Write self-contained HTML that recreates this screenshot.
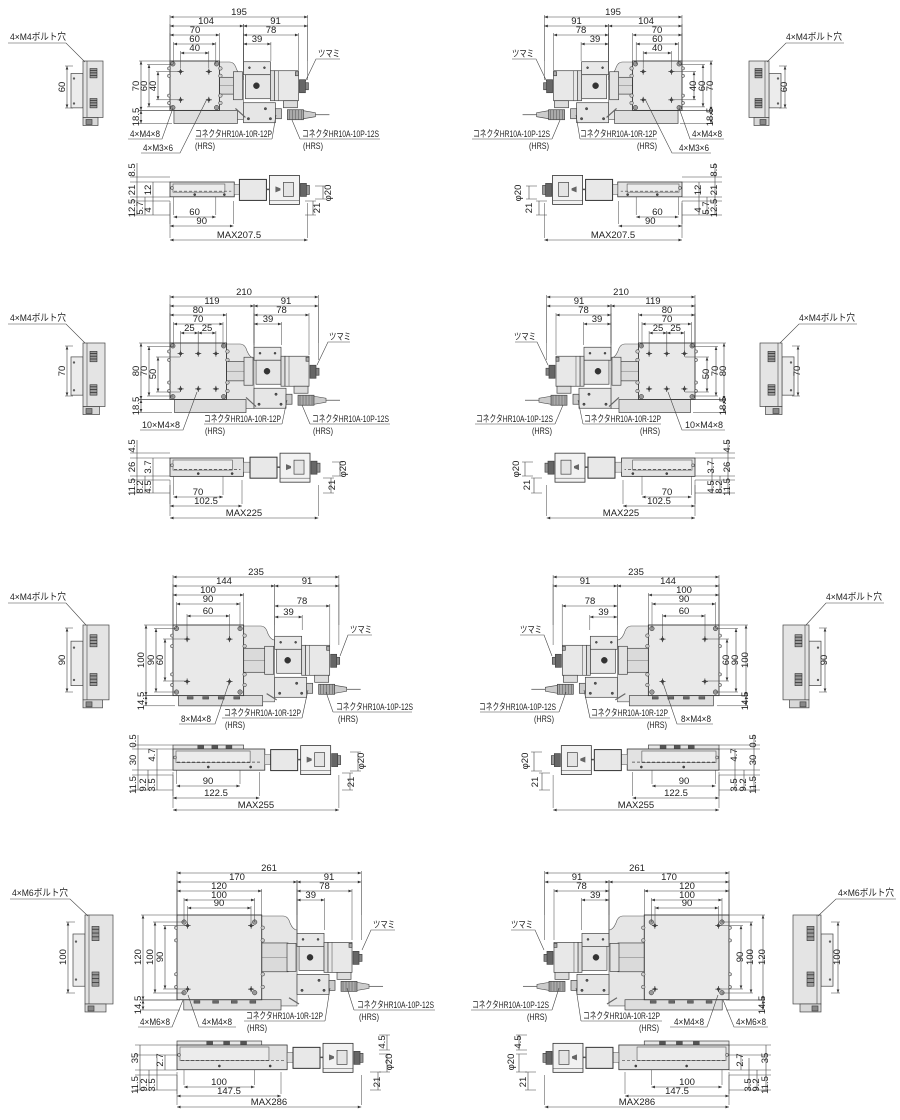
<!DOCTYPE html>
<html><head><meta charset="utf-8"><style>
html,body{margin:0;padding:0;background:#fff;}
svg{display:block;}
text{font-family:"Liberation Sans Narrow","Liberation Sans","Noto Sans CJK JP",sans-serif;font-size:9.5px;fill:#222;}
</style></head><body>
<svg id="S" width="900" height="1120" viewBox="0 0 900 1120" xmlns="http://www.w3.org/2000/svg">
<rect width="900" height="1120" fill="#fff"/>
<g id="r1">
<text x="239" y="15" text-anchor="middle">195</text>
<text x="206" y="24" text-anchor="middle">104</text>
<text x="275.5" y="24" text-anchor="middle">91</text>
<text x="195" y="33" text-anchor="middle">70</text>
<text x="271" y="33" text-anchor="middle">78</text>
<text x="194.6" y="42" text-anchor="middle">60</text>
<text x="257" y="42" text-anchor="middle">39</text>
<text x="194.7" y="51" text-anchor="middle">40</text>
<text x="139" y="86" text-anchor="middle" transform="rotate(-90 139 86)">70</text>
<text x="147" y="86" text-anchor="middle" transform="rotate(-90 147 86)">60</text>
<text x="156" y="86" text-anchor="middle" transform="rotate(-90 156 86)">40</text>
<text x="139" y="117" text-anchor="middle" transform="rotate(-90 139 117)">18.5</text>
<text x="130" y="137" text-anchor="start" textLength="30" lengthAdjust="spacingAndGlyphs">4×M4×8</text>
<text x="143" y="151" text-anchor="start" textLength="30" lengthAdjust="spacingAndGlyphs">4×M3×6</text>
<text x="195" y="137" text-anchor="start" textLength="77" lengthAdjust="spacingAndGlyphs">コネクタHR10A-10R-12P</text>
<text x="195" y="149" text-anchor="start" textLength="20" lengthAdjust="spacingAndGlyphs">(HRS)</text>
<text x="302" y="137" text-anchor="start" textLength="77" lengthAdjust="spacingAndGlyphs">コネクタHR10A-10P-12S</text>
<text x="303" y="149" text-anchor="start" textLength="20" lengthAdjust="spacingAndGlyphs">(HRS)</text>
<text x="318" y="57" text-anchor="start" textLength="22" lengthAdjust="spacingAndGlyphs">ツマミ</text>
<text x="65" y="87" text-anchor="middle" transform="rotate(-90 65 87)">60</text>
<text x="10" y="40" text-anchor="start" textLength="56" lengthAdjust="spacingAndGlyphs">4×M4ボルト穴</text>
<text x="135" y="170" text-anchor="middle" transform="rotate(-90 135 170)">8.5</text>
<text x="135" y="190" text-anchor="middle" transform="rotate(-90 135 190)">21</text>
<text x="135" y="208" text-anchor="middle" transform="rotate(-90 135 208)">12.5</text>
<text x="143" y="208" text-anchor="middle" transform="rotate(-90 143 208)">5.7</text>
<text x="151" y="210" text-anchor="middle" transform="rotate(-90 151 210)">4</text>
<text x="151" y="190" text-anchor="middle" transform="rotate(-90 151 190)">12</text>
<text x="194.6" y="215" text-anchor="middle">60</text>
<text x="201.7" y="224" text-anchor="middle">90</text>
<text x="239" y="238" text-anchor="middle">MAX207.5</text>
<text x="331" y="193" text-anchor="middle" transform="rotate(-90 331 193)">φ20</text>
<text x="320" y="208" text-anchor="middle" transform="rotate(-90 320 208)">21</text>
</g>
<g id="r2">
<text x="244" y="295" text-anchor="middle">210</text>
<text x="212" y="304" text-anchor="middle">119</text>
<text x="286" y="304" text-anchor="middle">91</text>
<text x="198" y="313" text-anchor="middle">80</text>
<text x="281.5" y="313" text-anchor="middle">78</text>
<text x="198" y="322" text-anchor="middle">70</text>
<text x="268" y="322" text-anchor="middle">39</text>
<text x="189.4" y="331" text-anchor="middle">25</text>
<text x="207" y="331" text-anchor="middle">25</text>
<text x="139" y="371" text-anchor="middle" transform="rotate(-90 139 371)">80</text>
<text x="147" y="371" text-anchor="middle" transform="rotate(-90 147 371)">70</text>
<text x="156" y="374" text-anchor="middle" transform="rotate(-90 156 374)">50</text>
<text x="139" y="406" text-anchor="middle" transform="rotate(-90 139 406)">18.5</text>
<text x="142" y="428" text-anchor="start" textLength="38" lengthAdjust="spacingAndGlyphs">10×M4×8</text>
<text x="204" y="422" text-anchor="start" textLength="77" lengthAdjust="spacingAndGlyphs">コネクタHR10A-10R-12P</text>
<text x="205" y="434" text-anchor="start" textLength="20" lengthAdjust="spacingAndGlyphs">(HRS)</text>
<text x="312" y="422" text-anchor="start" textLength="77" lengthAdjust="spacingAndGlyphs">コネクタHR10A-10P-12S</text>
<text x="313" y="434" text-anchor="start" textLength="20" lengthAdjust="spacingAndGlyphs">(HRS)</text>
<text x="329" y="340" text-anchor="start" textLength="22" lengthAdjust="spacingAndGlyphs">ツマミ</text>
<text x="65" y="371" text-anchor="middle" transform="rotate(-90 65 371)">70</text>
<text x="10" y="321" text-anchor="start" textLength="56" lengthAdjust="spacingAndGlyphs">4×M4ボルト穴</text>
<text x="135" y="446" text-anchor="middle" transform="rotate(-90 135 446)">4.5</text>
<text x="135" y="467" text-anchor="middle" transform="rotate(-90 135 467)">26</text>
<text x="135" y="487" text-anchor="middle" transform="rotate(-90 135 487)">11.5</text>
<text x="143" y="487" text-anchor="middle" transform="rotate(-90 143 487)">8.2</text>
<text x="151" y="487" text-anchor="middle" transform="rotate(-90 151 487)">4.5</text>
<text x="151" y="467" text-anchor="middle" transform="rotate(-90 151 467)">3.7</text>
<text x="198" y="495" text-anchor="middle">70</text>
<text x="206" y="504" text-anchor="middle">102.5</text>
<text x="244" y="516" text-anchor="middle">MAX225</text>
<text x="346" y="469" text-anchor="middle" transform="rotate(-90 346 469)">φ20</text>
<text x="335" y="485" text-anchor="middle" transform="rotate(-90 335 485)">21</text>
</g>
<g id="r3">
<text x="256" y="575" text-anchor="middle">235</text>
<text x="224" y="584" text-anchor="middle">144</text>
<text x="307" y="584" text-anchor="middle">91</text>
<text x="208" y="593" text-anchor="middle">100</text>
<text x="208" y="602" text-anchor="middle">90</text>
<text x="302" y="604" text-anchor="middle">78</text>
<text x="208" y="614" text-anchor="middle">60</text>
<text x="288.5" y="615" text-anchor="middle">39</text>
<text x="144" y="660" text-anchor="middle" transform="rotate(-90 144 660)">100</text>
<text x="154" y="660" text-anchor="middle" transform="rotate(-90 154 660)">90</text>
<text x="163" y="660" text-anchor="middle" transform="rotate(-90 163 660)">60</text>
<text x="144" y="701" text-anchor="middle" transform="rotate(-90 144 701)">14.5</text>
<text x="181" y="722" text-anchor="start" textLength="30" lengthAdjust="spacingAndGlyphs">8×M4×8</text>
<text x="224" y="716" text-anchor="start" textLength="77" lengthAdjust="spacingAndGlyphs">コネクタHR10A-10R-12P</text>
<text x="225" y="728" text-anchor="start" textLength="20" lengthAdjust="spacingAndGlyphs">(HRS)</text>
<text x="336" y="710" text-anchor="start" textLength="77" lengthAdjust="spacingAndGlyphs">コネクタHR10A-10P-12S</text>
<text x="338" y="722" text-anchor="start" textLength="20" lengthAdjust="spacingAndGlyphs">(HRS)</text>
<text x="350" y="633" text-anchor="start" textLength="22" lengthAdjust="spacingAndGlyphs">ツマミ</text>
<text x="65" y="660" text-anchor="middle" transform="rotate(-90 65 660)">90</text>
<text x="10" y="600" text-anchor="start" textLength="56" lengthAdjust="spacingAndGlyphs">4×M4ボルト穴</text>
<text x="136" y="741" text-anchor="middle" transform="rotate(-90 136 741)">0.5</text>
<text x="136" y="760" text-anchor="middle" transform="rotate(-90 136 760)">30</text>
<text x="136" y="785" text-anchor="middle" transform="rotate(-90 136 785)">11.5</text>
<text x="146" y="785" text-anchor="middle" transform="rotate(-90 146 785)">9.2</text>
<text x="155" y="785" text-anchor="middle" transform="rotate(-90 155 785)">3.5</text>
<text x="155" y="755" text-anchor="middle" transform="rotate(-90 155 755)">4.7</text>
<text x="208" y="784" text-anchor="middle">90</text>
<text x="216" y="796" text-anchor="middle">122.5</text>
<text x="256" y="808" text-anchor="middle">MAX255</text>
<text x="364" y="761" text-anchor="middle" transform="rotate(-90 364 761)">φ20</text>
<text x="354" y="782" text-anchor="middle" transform="rotate(-90 354 782)">21</text>
</g>
<g id="r4">
<text x="269" y="871" text-anchor="middle">261</text>
<text x="237" y="880" text-anchor="middle">170</text>
<text x="329" y="880" text-anchor="middle">91</text>
<text x="219" y="889" text-anchor="middle">120</text>
<text x="324.5" y="889" text-anchor="middle">78</text>
<text x="219" y="898" text-anchor="middle">100</text>
<text x="310.7" y="898" text-anchor="middle">39</text>
<text x="219" y="906" text-anchor="middle">90</text>
<text x="141" y="957" text-anchor="middle" transform="rotate(-90 141 957)">120</text>
<text x="153" y="957" text-anchor="middle" transform="rotate(-90 153 957)">100</text>
<text x="163" y="957" text-anchor="middle" transform="rotate(-90 163 957)">90</text>
<text x="141" y="1005" text-anchor="middle" transform="rotate(-90 141 1005)">14.5</text>
<text x="140" y="1025" text-anchor="start" textLength="30" lengthAdjust="spacingAndGlyphs">4×M6×8</text>
<text x="202" y="1025" text-anchor="start" textLength="30" lengthAdjust="spacingAndGlyphs">4×M4×8</text>
<text x="246" y="1019" text-anchor="start" textLength="77" lengthAdjust="spacingAndGlyphs">コネクタHR10A-10R-12P</text>
<text x="247" y="1031" text-anchor="start" textLength="20" lengthAdjust="spacingAndGlyphs">(HRS)</text>
<text x="357" y="1008" text-anchor="start" textLength="77" lengthAdjust="spacingAndGlyphs">コネクタHR10A-10P-12S</text>
<text x="359" y="1020" text-anchor="start" textLength="20" lengthAdjust="spacingAndGlyphs">(HRS)</text>
<text x="373" y="928" text-anchor="start" textLength="22" lengthAdjust="spacingAndGlyphs">ツマミ</text>
<text x="66" y="957" text-anchor="middle" transform="rotate(-90 66 957)">100</text>
<text x="12" y="896" text-anchor="start" textLength="56" lengthAdjust="spacingAndGlyphs">4×M6ボルト穴</text>
<text x="138" y="1058" text-anchor="middle" transform="rotate(-90 138 1058)">35</text>
<text x="163" y="1060" text-anchor="middle" transform="rotate(-90 163 1060)">2.7</text>
<text x="138" y="1085" text-anchor="middle" transform="rotate(-90 138 1085)">11.5</text>
<text x="147" y="1085" text-anchor="middle" transform="rotate(-90 147 1085)">9.2</text>
<text x="155" y="1085" text-anchor="middle" transform="rotate(-90 155 1085)">3.5</text>
<text x="219" y="1085" text-anchor="middle">100</text>
<text x="229" y="1094" text-anchor="middle">147.5</text>
<text x="269" y="1105" text-anchor="middle">MAX286</text>
<text x="385" y="1042" text-anchor="middle" transform="rotate(-90 385 1042)">4.5</text>
<text x="392" y="1062" text-anchor="middle" transform="rotate(-90 392 1062)">φ20</text>
<text x="380" y="1082" text-anchor="middle" transform="rotate(-90 380 1082)">21</text>
</g>
</svg>
<script>
(function(){
var NS='http://www.w3.org/2000/svg',k=0.706;
function el(g,t,a){var e=document.createElementNS(NS,t);for(var n in a)e.setAttribute(n,a[n]);g.appendChild(e);return e;}
function L(g,x1,y1,x2,y2,w,c,d){var a={x1:x1,y1:y1,x2:x2,y2:y2,stroke:c||'#444','stroke-width':w||0.6};if(d)a['stroke-dasharray']=d;el(g,'line',a);}
function R(g,x,y,w,h,f,s,sw){el(g,'rect',{x:x,y:y,width:w,height:h,fill:f||'#e4e4e4',stroke:s||'#444','stroke-width':sw||0.7});}
function C(g,x,y,r,f){el(g,'circle',{cx:x,cy:y,r:r,fill:f||'#888',stroke:'#333','stroke-width':0.5});}
function X(g,x,y){L(g,x-3,y,x+3,y,0.7,'#222');L(g,x,y-3,x,y+3,0.7,'#222');C(g,x,y,1.3,'#444');}
function arr(g,x,y,dir){var s=2.2,p;if(dir=='l')p=[x,y,x+s*1.6,y-s*0.6,x+s*1.6,y+s*0.6];else if(dir=='r')p=[x,y,x-s*1.6,y-s*0.6,x-s*1.6,y+s*0.6];else if(dir=='u')p=[x,y,x-s*0.6,y+s*1.6,x+s*0.6,y+s*1.6];else p=[x,y,x-s*0.6,y-s*1.6,x+s*0.6,y-s*1.6];el(g,'polygon',{points:p.join(' '),fill:'#333'});}
function dH(g,x1,x2,y,e){L(g,x1,y,x2,y);arr(g,x1,y,'l');arr(g,x2,y,'r');L(g,x1,y-2,x1,e,0.5);L(g,x2,y-2,x2,e,0.5);}
function dV(g,x,y1,y2,e){L(g,x,y1,x,y2);arr(g,x,y1,'u');arr(g,x,y2,'d');L(g,x-2,y1,e,y1,0.5);L(g,x-2,y2,e,y2,0.5);}
function panel(g,p){
 var x0=p.x0,S=p.S,s=S*k,A=p.L-91,xp2=x0+s,xm=x0+A*k,xe=x0+p.L*k,yP=p.yP,yb=yP+s,ybb=yb+p.base*k,yc=yP+s/2;
 el(g,'path',{d:'M'+(xp2-2)+','+(yP+1)+' L'+(xm-14)+','+(yP+1)+' Q'+(xm-9)+','+(yP+1)+' '+(xm-7)+','+(yP+8)+' Q'+(xm-4)+','+(yP+15)+' '+xm+','+(yP+15)+' L'+xm+','+(ybb-4)+' L'+(xp2-2)+','+(ybb-4)+'Z',fill:'#e6e6e6',stroke:'#555','stroke-width':0.6});
 R(g,x0+s*0.08,yb,xm-4-(S-60)*0.2-(x0+s*0.08),p.base*k,'#dedede');
 if(S>=100){for(var i=0;i<4;i++)R(g,x0+s*(0.2+i*0.22),yb+1,6,2.5,'#666','#333',0.4);}
 R(g,xp2,yc-s*0.17,xm-9-xp2,s*0.34,'#dadada');L(g,xp2,yc,xm-9,yc,0.5,'#777');
 R(g,xm-10,yc-14,9,28,'#e2e2e2');
 R(g,x0,yP,s,s,'#e9e9e9','#333',0.9);
 [[0.15],[0.3],[0.7],[0.85]].forEach(function(f){C(g,xp2+1,yP+s*f[0],1.8,'#ccc');C(g,x0-1,yP+s*f[0],1.6,'#ccc');});
 p.holes.forEach(function(h){X(g,x0+h[0]*k,yP+h[1]*k);});
 var o=p.cor*k;[[o,o],[s-o,o],[o,s-o],[s-o,s-o]].forEach(function(c){C(g,x0+c[0],yP+c[1],2.3,'#999');});
 R(g,xm,yc-24,27,13,'#e8e8e8');C(g,xm+6,yc-18,1,'#555');C(g,xm+21,yc-18,1,'#555');
 R(g,xm+2,yc-11,25,24,'#e6e6e6');C(g,xm+13,yc,3,'#333');
 R(g,xm+27,yc-15,4,30,'#ddd');R(g,xm+31,yc-15,24,30,'#e8e8e8');L(g,xm+35,yc-15,xm+35,yc+15,0.5);
 R(g,xm+52,yc-14,3,4,'#aaa');
 R(g,xm+56,yc-6,6,13,'#666');R(g,xm+62,yc-3,3,7,'#888');
 R(g,xm+40,yc+15,14,7,'#ddd');
 R(g,xm,yc+17,32,20,'#e6e6e6');C(g,xm+5,yc+33,1.2,'#555');C(g,xm+27,yc+33,1.2,'#555');C(g,xm+22,yc+23,1.2,'#555');
 R(g,xm+32,yc+23,6,10,'#ccc');
 R(g,xm+44,yc+24,16,10,'#aaa');for(var j=0;j<5;j++)L(g,xm+46+j*3,yc+24,xm+46+j*3,yc+34,0.5,'#555');
 el(g,'path',{d:'M'+(xm+60)+','+(yc+25)+' L'+(xm+72)+','+(yc+27)+' L'+(xm+72)+','+(yc+31)+' L'+(xm+60)+','+(yc+33)+'Z',fill:'#ccc',stroke:'#444','stroke-width':0.6});
 L(g,xm+72,yc+29,xm+86,yc+29,0.8,'#555');
 L(g,xm-8,yb-2,xm+2,ybb-6,1.2,'#666');
 var sv=p.sv,h=ybb-yP;
 R(g,sv.x-12,yP+h*0.2,12,h*0.55,'#ececec');C(g,sv.x-9,yP+h*0.28,0.9,'#777');C(g,sv.x-9,yP+h*0.68,0.9,'#777');
 R(g,sv.x,yP,sv.w,h-6,'#e4e4e4');L(g,sv.x+4,yP,sv.x+4,yP+h-6,0.6);
 R(g,sv.x+7,yP+h*0.12,7,h*0.15,'#999','#333',0.6);R(g,sv.x+7,yP+h*0.6,7,h*0.15,'#999','#333',0.6);
 for(var q=0;q<3;q++){L(g,sv.x+7,yP+h*(0.15+q*0.04),sv.x+14,yP+h*(0.15+q*0.04),0.8,'#333');L(g,sv.x+7,yP+h*(0.63+q*0.04),sv.x+14,yP+h*(0.63+q*0.04),0.8,'#333');}
 R(g,sv.x,yP+h-6,sv.w*0.75,8,'#d8d8d8');R(g,sv.x+3,yP+h-4,6,5,'#888');
 dV(g,sv.d[0],sv.d[1],sv.d[2],sv.x-10);
 var yS=p.yS,H=p.H*k,sl=S*1.3*k,ycs=yS+H*0.5;
 if(S>=100){R(g,x0,yS-4,s,5,'#e8e8e8');for(var m=0;m<3;m++)R(g,x0+s*(0.35+m*0.2),yS-3.5,6,3,'#555','#333',0.4);}
 R(g,x0,yS,sl,H,'#e2e2e2','#333',0.8);
 R(g,x0+3,yS+2,s*1.05,H*0.55,'#ececec','#555',0.6);
 L(g,x0+4,yS+H*0.62,x0+sl-3,yS+H*0.62,0.7,'#444','3,2');
 C(g,x0+s*0.5,yS+H*0.85,1.1,'#444');C(g,x0+s*1.1,yS+H*0.85,1.1,'#444');C(g,x0+2,yS+H*0.4,1.5,'#ccc');
 R(g,x0+sl,ycs-5,xm-4-(x0+sl),10,'#e0e0e0','#555',0.5);
 R(g,xm-4,ycs-10,27,21,'#e8e8e8','#333',1);
 L(g,xm+23,ycs,xm+29,ycs,1.5,'#555');
 R(g,xm+26,ycs-14,30,29,'#f2f2f2','#333',0.8);
 el(g,'path',{d:'M'+(xm+32)+','+(ycs-3)+' L'+(xm+37)+','+(ycs-1)+' L'+(xm+37)+','+(ycs+1)+' L'+(xm+32)+','+(ycs+3)+'Z',fill:'#666'});
 R(g,xm+40,ycs-7,10,14,'#e4e4e4');L(g,xm+26,ycs+11,xm+56,ycs+11,0.5);
 R(g,xm+57,ycs-6,6,13,'#666');R(g,xm+63,ycs-4,3,9,'#999');
 p.top.forEach(function(d){dH(g,d[0],d[1],d[2],d[3]);});
 p.vl.forEach(function(d){dV(g,d[0],d[1],d[2],d[3]);});
 p.bot.forEach(function(d){dH(g,d[0],d[1],d[2],d[3]);});
 p.sd.forEach(function(d){L(g,d[0],d[1],d[0],d[2]);});
 p.sh.forEach(function(y){L(g,p.sx0,y,x0,y,0.5);});
 p.rt.forEach(function(d){L(g,d[0],d[1],d[0],d[2]);L(g,d[0]-8,d[1],d[0]+3,d[1],0.5);L(g,d[0]-8,d[2],d[0]+3,d[2],0.5);});
 p.ld.forEach(function(d){el(g,'polyline',{points:d.join(' '),fill:'none',stroke:'#444','stroke-width':0.6});});
}
var rows=[
{id:'r1',a:426,x0:170,S:70,L:195,yP:61,base:18.5,yS:182,H:21,sv:{x:83,w:20,d:[67,66,108]},
 holes:[[15,15],[55,15],[15,55],[55,55]],cor:4,
 top:[[170,307.7,17,61],[170,243.4,26,61],[243.4,307.7,26,80],[170,219.4,35,61],[243.4,298.5,35,70],[173.5,215.8,44,64],[243.4,270.9,44,61],[180.6,208.8,53,68]],
 vl:[[141,61,110.4,170],[149,64.5,106.9,173],[158,71.6,99.8,180],[141,110.4,123.5,172]],
 bot:[[173.5,215.8,217,197],[170,233.5,226,201],[170,307.7,240,203]],
 sd:[[137,163,215],[145,197,215],[153,182,215]],sh:[177,182,197,201,215],sx0:130,
 rt:[[323,186,199],[313,201,215]],
 ld:[[128,139,162,139,173,108],[141,153,180,153,207,99],[272,139,195,139],[272,139,276,115],[300,139,380,139],[300,139,292,120],[340,59,316,59,305,82],[8,43,66,43,85,62]]},
{id:'r2',a:432.5,x0:170,S:80,L:210,yP:343,base:18.5,yS:458,H:26,sv:{x:83,w:22,d:[67,346,396]},
 holes:[[15,15],[40,15],[65,15],[15,65],[40,65],[65,65]],cor:4,
 top:[[170,318.3,297,343],[170,254,306,343],[254,318.3,306,360],[170,226.5,315,343],[254,309,315,355],[173.5,223,324,347],[254,281.5,324,345],[180.6,198.2,333,355],[198.2,215.9,333,355]],
 vl:[[141,343,399.5,170],[149,346.5,396,173],[158,357,392,180],[141,399.5,412.5,172]],
 bot:[[173.5,223,497,476],[170,242,506,480],[170,318.3,518,485]],
 sd:[[137,440,493],[145,476,493],[153,458,493]],sh:[453,458,476,480,493],sx0:130,
 rt:[[340,462,476],[331,478,493]],
 ld:[[140,430,183,430,197,392],[282,424,204,424],[282,424,287,400],[310,424,390,424],[310,424,302,405],[350,342,328,342,317,365],[8,324,66,324,85,343]]},
{id:'r3',a:446,x0:173,S:100,L:235,yP:625,base:14.5,yS:749,H:30,sv:{x:83,w:26,d:[67,628,692]},
 holes:[[20,20],[80,20],[20,80],[80,80]],cor:5,
 top:[[173,338.9,577,625],[173,274.7,586,625],[274.7,338.9,586,645],[173,243.6,595,625],[176.5,240,604,628],[274.7,329.8,606,645],[187,229.5,616,639],[274.7,302.2,617,630]],
 vl:[[146,625,695.6,173],[156,628.5,692,176],[165,639,681,187],[146,695.6,705.8,175]],
 bot:[[176.5,240,786,770],[173,259.5,798,772],[173,338.9,810,775]],
 sd:[[138,735,790],[148,770,790],[157,749,790]],sh:[745,749,770,775,790],sx0:132,
 rt:[[358,752,771],[350,773,790]],
 ld:[[179,724,215,724,229,683],[302,718,222,718],[302,718,308,690],[333,712,412,712],[333,712,326,692],[372,635,348,635,340,656],[8,603,66,603,86,625]]},
{id:'r4',a:453,x0:177,S:120,L:261,yP:915,base:14.5,yS:1045,H:35,sv:{x:85,w:28,d:[68,922,993]},
 holes:[[15,15],[105,15],[15,105],[105,105]],cor:10,
 top:[[177,361.3,873,915],[177,297,882,915],[297,361.3,882,940],[177,261.7,891,915],[297,352,891,940],[184,254.6,900,922],[297,324.5,900,930],[187.6,251,908,925]],
 vl:[[143,915,1000,177],[155,922,993,184],[165,925.6,989,187],[143,1000,1010,180]],
 bot:[[184,254.6,1087,1070],[177,281,1096,1072],[177,361.3,1107,1075]],
 sd:[[140,1045,1090],[149,1070,1090],[157,1058,1090],[165,1055,1070]],sh:[1045,1055,1070,1075,1090],sx0:135,
 rt:[[387,1035,1050],[387,1054,1072],[378,1072,1090]],
 ld:[[138,1027,172,1027,183,1000],[236,1027,199,1027,188,995],[325,1021,244,1021],[325,1021,330,988],[354,1010,435,1010],[354,1010,347,988],[395,930,371,930,362,950],[10,899,70,899,88,916]]}
];
var svg=document.getElementById('S');
rows.forEach(function(p){
 var grp=document.getElementById(p.id);
 var sg=document.createElementNS(NS,'g');grp.insertBefore(sg,grp.firstChild);
 panel(sg,p);
 var cl=grp.cloneNode(true);cl.removeAttribute('id');
 cl.setAttribute('transform','translate('+(2*p.a)+',0) scale(-1,1)');
 svg.appendChild(cl);
 Array.prototype.slice.call(cl.querySelectorAll('text')).forEach(function(t){
  var x=+t.getAttribute('x');var w=document.createElementNS(NS,'g');
  w.setAttribute('transform','translate('+(2*x)+',0) scale(-1,1)');
  t.parentNode.insertBefore(w,t);w.appendChild(t);
  var an=t.getAttribute('text-anchor');if(an=='start')t.setAttribute('text-anchor','end');else if(an=='end')t.setAttribute('text-anchor','start');
 });
});
})();
</script>
</body></html>
